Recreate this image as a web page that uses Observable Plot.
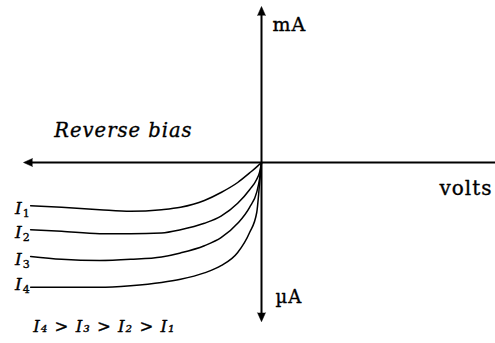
<!DOCTYPE html>
<html>
<head>
<meta charset="utf-8">
<script src="https://cdn.jsdelivr.net/npm/d3@7"></script>
<script src="https://cdn.jsdelivr.net/npm/@observablehq/plot@0.6"></script>
<style>
  html, body { margin: 0; padding: 0; background: #fff; }
  #chart svg { display: block; }
</style>
</head>
<body>
<div id="chart"></div>
<script>
// Reverse-bias voltage (arbitrary volts, negative = reverse bias)
const volts = [-9.7, -8.4, -6.8, -5.5, -4.2, -3.4, -2.4, -1.7, -1.0, -0.5, -0.2, -0.08, 0];

// Reverse current for four illumination intensities (arbitrary µA)
const seriesNames = ["1", "2", "3", "4"];
const currentI1 = [-5.4, -5.6, -5.9, -6.1, -5.9, -5.6, -4.75, -3.75, -2.5, -1.3, -0.55, -0.22, 0];
const currentI2 = [-8.4, -8.6, -8.9, -8.9, -8.8, -8.4, -7.6, -6.7, -5.1, -3.4, -2.1, -1.2, 0];
const currentI3 = [-11.75, -12.1, -12.25, -12.1, -11.8, -11.3, -10.4, -9.4, -7.6, -5.6, -3.7, -2.0, 0];
const currentI4 = [-15.6, -15.6, -15.6, -15.4, -15.0, -14.6, -13.8, -12.9, -11.25, -8.75, -6.25, -2.6, 0];
const currents = [currentI1, currentI2, currentI3, currentI4];

// Axis extents
const xLeft = -10, xRight = 10;
const yTop = 19.5, yBottom = -19.9;

// Text
const reverseLabel = "Reverse bias";
const upperUnit = "mA";
const lowerUnit = "µA";
const xUnit = "volts";
const ordering = "I₄ > I₃ > I₂ > I₁";

const rows = seriesNames.flatMap((s, k) =>
  volts.map((v, j) => ({series: s, v, i: currents[k][j]}))
);
const starts = seriesNames.map((s, k) => ({series: s, v: volts[0], i: currents[k][0]}));

const font = "'DejaVu Serif', 'Liberation Serif', serif";
// slightly heavier glyphs
const ink = {fill: "#000", stroke: "#000", strokeWidth: 0.35};

const heads = [
  {v: xLeft, i: 0, rot: -90},
  {v: 0, i: yTop, rot: 0},
  {v: 0, i: yBottom, rot: 180}
];

// "I" with a subscript index, placed just left of each curve's start
function curveLabel(filter, dy) {
  return [
    Plot.text(starts, {filter, x: "v", y: "i", text: () => "I", textAnchor: "end", dx: -8, dy, fontSize: 17, fontStyle: "italic", ...ink}),
    Plot.text(starts, {filter, x: "v", y: "i", text: "series", textAnchor: "start", dx: -8, dy: dy + 5, fontSize: 11, ...ink})
  ];
}

const chart = Plot.plot({
  width: 495,
  height: 343,
  margin: 0,
  style: {fontFamily: font, background: "#fff", letterSpacing: "1px"},
  x: {domain: [xLeft, xRight], range: [23, 499], axis: null},
  y: {domain: [-20, 20], range: [322, 2], axis: null},
  marks: [
    // axes
    Plot.ruleY([0], {x1: xLeft + 0.3, x2: xRight, stroke: "#000", strokeWidth: 2}),
    Plot.ruleX([0], {y1: yBottom + 0.6, y2: yTop - 0.6, stroke: "#000", strokeWidth: 2}),
    Plot.vector(heads, {x: "v", y: "i", rotate: "rot", length: 9, r: 4, shape: "spike", anchor: "end", fill: "#000", stroke: "#000", strokeWidth: 0.5}),
    // characteristic curves
    Plot.line(rows, {x: "v", y: "i", z: "series", curve: "monotone-x", stroke: "#000", strokeWidth: 1.5}),
    // curve labels
    ...curveLabel(d => d.series !== "4", 3),
    ...curveLabel(d => d.series === "4", -2.5),
    // annotations
    Plot.text([reverseLabel], {x: -5.8, y: 4.0, text: d => d, fontSize: 19.5, fontStyle: "italic", ...ink}),
    Plot.text([upperUnit], {x: 0, y: 17.2, text: d => d, textAnchor: "start", dx: 11, fontSize: 19, ...ink}),
    Plot.text([lowerUnit], {x: 0, y: -16.9, text: d => d, textAnchor: "start", dx: 14, fontSize: 18, ...ink}),
    Plot.text([xUnit], {x: xRight, y: -3.2, text: d => d, textAnchor: "end", dx: -7, fontSize: 20, ...ink}),
    Plot.text([ordering], {x: -6.6, y: -20.5, text: d => d, fontSize: 16.5, fontStyle: "italic", ...ink})
  ]
});

document.getElementById("chart").appendChild(chart);
</script>
</body>
</html>
